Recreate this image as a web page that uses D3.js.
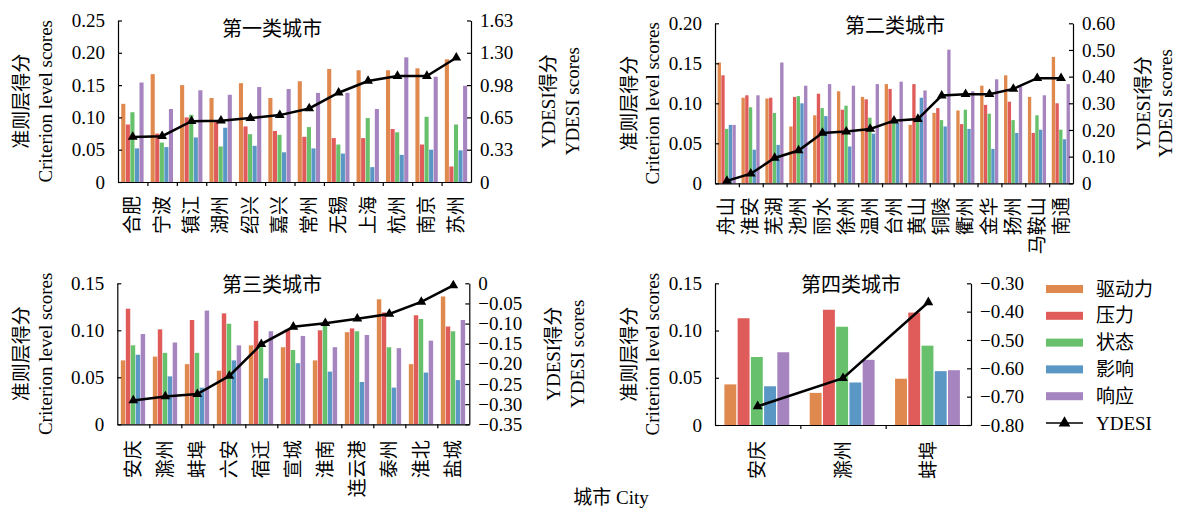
<!DOCTYPE html>
<html>
<head>
<meta charset="utf-8">
<script src="https://cdn.jsdelivr.net/npm/d3@7"></script>
<style>
  body { margin: 0; background: #fff; }
  svg text { font-family: "Liberation Serif", "Noto Sans CJK SC", serif; fill: #000; }
</style>
</head>
<body>
<svg id="chart" width="1177" height="510"></svg>
<script>
// criteria + legend
var criteria = ["驱动力", "压力", "状态", "影响", "响应"];
var colors = ["#E0894F", "#E05C5A", "#67C06B", "#5A97C4", "#A684BF"];

// panel 1 - 第一类城市
var cities1 = ["合肥", "宁波", "镇江", "湖州", "绍兴", "嘉兴", "常州", "无锡", "上海", "杭州", "南京", "苏州"];
var drive1 = [0.121, 0.167, 0.150, 0.130, 0.153, 0.130, 0.156, 0.175, 0.173, 0.173, 0.176, 0.190];
var press1 = [0.089, 0.075, 0.100, 0.095, 0.086, 0.079, 0.070, 0.068, 0.068, 0.082, 0.058, 0.024];
var state1 = [0.108, 0.061, 0.104, 0.055, 0.074, 0.073, 0.085, 0.058, 0.099, 0.077, 0.101, 0.089];
var impact1 = [0.052, 0.054, 0.069, 0.084, 0.056, 0.046, 0.052, 0.044, 0.023, 0.042, 0.050, 0.049];
var resp1 = [0.154, 0.113, 0.142, 0.135, 0.147, 0.144, 0.138, 0.138, 0.113, 0.193, 0.163, 0.149];
var ydesi1 = [0.454, 0.461, 0.612, 0.616, 0.643, 0.673, 0.740, 0.898, 1.016, 1.066, 1.066, 1.250];
var ticksL1 = ["0", "0.05", "0.10", "0.15", "0.20", "0.25"];
var ticksR1 = ["0", "0.33", "0.65", "0.98", "1.30", "1.63"];

// panel 2 - 第二类城市
var cities2 = ["舟山", "淮安", "芜湖", "池州", "丽水", "徐州", "温州", "台州", "黄山", "铜陵", "衢州", "金华", "扬州", "马鞍山", "南通"];
var drive2 = [0.151, 0.107, 0.106, 0.071, 0.085, 0.115, 0.108, 0.124, 0.073, 0.088, 0.091, 0.122, 0.135, 0.108, 0.158];
var press2 = [0.135, 0.110, 0.107, 0.108, 0.112, 0.092, 0.105, 0.118, 0.124, 0.094, 0.074, 0.098, 0.102, 0.063, 0.100];
var state2 = [0.068, 0.095, 0.088, 0.109, 0.094, 0.097, 0.082, 0.077, 0.081, 0.079, 0.092, 0.087, 0.079, 0.085, 0.067];
var impact2 = [0.073, 0.042, 0.048, 0.100, 0.084, 0.046, 0.062, 0.075, 0.107, 0.071, 0.068, 0.043, 0.063, 0.067, 0.055];
var resp2 = [0.073, 0.110, 0.151, 0.122, 0.124, 0.122, 0.124, 0.127, 0.116, 0.167, 0.115, 0.130, 0.121, 0.110, 0.124];
var ydesi2 = [0.009, 0.036, 0.095, 0.123, 0.189, 0.194, 0.204, 0.235, 0.241, 0.329, 0.334, 0.334, 0.354, 0.394, 0.394];
var ticksL2 = ["0", "0.05", "0.10", "0.15", "0.20"];
var ticksR2 = ["0", "0.10", "0.20", "0.30", "0.40", "0.50", "0.60"];

// panel 3 - 第三类城市
var cities3 = ["安庆", "滁州", "蚌埠", "六安", "宿迁", "宣城", "淮南", "连云港", "泰州", "淮北", "盐城"];
var drive3 = [0.068, 0.072, 0.064, 0.057, 0.084, 0.082, 0.068, 0.098, 0.133, 0.064, 0.136];
var press3 = [0.123, 0.101, 0.111, 0.118, 0.110, 0.101, 0.100, 0.102, 0.119, 0.116, 0.104];
var state3 = [0.084, 0.076, 0.076, 0.107, 0.082, 0.079, 0.109, 0.099, 0.082, 0.112, 0.099];
var impact3 = [0.074, 0.051, 0.039, 0.068, 0.049, 0.065, 0.056, 0.045, 0.039, 0.055, 0.047];
var resp3 = [0.096, 0.087, 0.121, 0.084, 0.099, 0.094, 0.082, 0.095, 0.081, 0.089, 0.111];
var ydesi3 = [-0.291, -0.281, -0.275, -0.230, -0.151, -0.108, -0.099, -0.088, -0.076, -0.046, -0.005];
var ticksL3 = ["0", "0.05", "0.10", "0.15"];
var ticksR3 = ["\u22120.35", "\u22120.30", "\u22120.25", "\u22120.20", "\u22120.15", "\u22120.10", "\u22120.05", "0"];

// panel 4 - 第四类城市
var cities4 = ["安庆", "滁州", "蚌埠"];
var drive4 = [0.043, 0.034, 0.049];
var press4 = [0.113, 0.122, 0.119];
var state4 = [0.072, 0.104, 0.084];
var impact4 = [0.041, 0.045, 0.057];
var resp4 = [0.077, 0.069, 0.058];
var ydesi4 = [-0.734, -0.635, -0.367];
var ticksL4 = ["0", "0.05", "0.10", "0.15"];
var ticksR4 = ["\u22120.80", "\u22120.70", "\u22120.60", "\u22120.50", "\u22120.40", "\u22120.30"];

var svg = d3.select("#chart");

var panels = [
  {title: "第一类城市", titleX: 272, titleY: 29, cities: cities1, series: [drive1, press1, state1, impact1, resp1], ydesi: ydesi1,
   x0: 118, x1: 471, y0: 20.5, y1: 182, yL: [0, 0.25], yR: [0, 1.625], ticksL: ticksL1, ticksR: ticksR1,
   lt: [21, 45], rt: [548, 572], labGap: 14},
  {title: "第二类城市", titleX: 895, titleY: 26, cities: cities2, series: [drive2, press2, state2, impact2, resp2], ydesi: ydesi2,
   x0: 715, x1: 1073, y0: 23.3, y1: 183.3, yL: [0, 0.20], yR: [0, 0.60], ticksL: ticksL2, ticksR: ticksR2,
   lt: [629, 652], rt: [1143, 1165], labGap: 14},
  {title: "第三类城市", titleX: 272, titleY: 285, cities: cities3, series: [drive3, press3, state3, impact3, resp3], ydesi: ydesi3,
   x0: 117.3, x1: 469.3, y0: 283.3, y1: 424.3, yL: [0, 0.15], yR: [-0.35, 0], ticksL: ticksL3, ticksR: ticksR3,
   lt: [21, 45], rt: [553, 577], labGap: 16},
  {title: "第四类城市", titleX: 851, titleY: 285, cities: cities4, series: [drive4, press4, state4, impact4, resp4], ydesi: ydesi4,
   x0: 715, x1: 971, y0: 283.3, y1: 425, yL: [0, 0.15], yR: [-0.80, -0.30], ticksL: ticksL4, ticksR: ticksR4,
   lt: [629, 652], rt: null, labGap: 16}
];

function drawPanel(p) {
  var g = svg.append("g");
  var n = p.cities.length;

  var x = d3.scaleBand().domain(p.cities).range([p.x0, p.x1]);
  var bw = x.bandwidth();
  var sub = d3.scaleBand().domain(d3.range(5)).range([bw * 0.11, bw * 0.87]).paddingInner(0.1);
  var yL = d3.scaleLinear().domain(p.yL).range([p.y1, p.y0]);
  var yR = d3.scaleLinear().domain(p.yR).range([p.y1, p.y0]);

  // bars
  p.cities.forEach(function(c, i) {
    var grp = g.append("g").attr("transform", "translate(" + x(c) + ",0)");
    p.series.forEach(function(s, j) {
      grp.append("rect")
        .attr("x", sub(j))
        .attr("width", sub.bandwidth())
        .attr("y", yL(s[i]))
        .attr("height", yL(0) - yL(s[i]))
        .attr("fill", colors[j]);
    });
  });

  // left axis
  var lv = p.ticksL.map(function(t, i) { return p.yL[0] + i * (p.yL[1] - p.yL[0]) / (p.ticksL.length - 1); });
  var axL = g.append("g").attr("transform", "translate(" + p.x0 + ",0)")
    .call(d3.axisLeft(yL).tickValues(lv).tickSizeInner(-4).tickSizeOuter(0).tickPadding(13)
      .tickFormat(function(d, i) { return p.ticksL[i]; }));
  // right axis
  var rv = p.ticksR.map(function(t, i) { return p.yR[0] + i * (p.yR[1] - p.yR[0]) / (p.ticksR.length - 1); });
  var axR = g.append("g").attr("transform", "translate(" + p.x1 + ",0)")
    .call(d3.axisRight(yR).tickValues(rv).tickSizeInner(-4).tickSizeOuter(0).tickPadding(9)
      .tickFormat(function(d, i) { return p.ticksR[i]; }));
  // bottom axis, ticks between the groups
  var xi = d3.scaleLinear().domain([0, n]).range([p.x0, p.x1]);
  var axB = g.append("g").attr("transform", "translate(0," + p.y1 + ")")
    .call(d3.axisBottom(xi).tickValues(d3.range(1, n)).tickSizeInner(4).tickSizeOuter(0).tickFormat(""));

  [axL, axR, axB].forEach(function(a) {
    a.selectAll("path, line").attr("stroke", "#000").attr("stroke-width", 1.2);
    a.selectAll("text").style("font-size", "19px").style("font-family", "Liberation Serif, serif");
  });

  // city labels, rotated
  p.cities.forEach(function(c) {
    g.append("text")
      .attr("transform", "translate(" + (x(c) + bw / 2) + "," + (p.y1 + p.labGap) + ") rotate(-90)")
      .attr("text-anchor", "end")
      .attr("dominant-baseline", "central")
      .style("font-size", "19px")
      .text(c);
  });

  // YDESI line
  var line = d3.line()
    .x(function(d, i) { return x(p.cities[i]) + bw / 2; })
    .y(function(d) { return yR(d); });
  g.append("path").datum(p.ydesi)
    .attr("d", line)
    .attr("fill", "none")
    .attr("stroke", "#000")
    .attr("stroke-width", 2.5);
  g.selectAll(".tri").data(p.ydesi).enter().append("path")
    .attr("class", "tri")
    .attr("d", d3.symbol(d3.symbolTriangle).size(42))
    .attr("transform", function(d, i) { return "translate(" + (x(p.cities[i]) + bw / 2) + "," + yR(d) + ")"; })
    .attr("fill", "#000");

  // title
  g.append("text")
    .attr("x", p.titleX).attr("y", p.titleY)
    .attr("text-anchor", "middle").attr("dominant-baseline", "central")
    .style("font-size", "20px")
    .text(p.title);

  // axis titles
  var cy = (p.y0 + p.y1) / 2;
  g.append("text").attr("transform", "translate(" + p.lt[0] + "," + cy + ") rotate(-90)")
    .attr("text-anchor", "middle").attr("dominant-baseline", "central")
    .style("font-size", "19px").text("准则层得分");
  g.append("text").attr("transform", "translate(" + p.lt[1] + "," + cy + ") rotate(-90)")
    .attr("text-anchor", "middle").attr("dominant-baseline", "central")
    .style("font-size", "19px").text("Criterion level scores");
  if (p.rt) {
    g.append("text").attr("transform", "translate(" + p.rt[0] + "," + cy + ") rotate(-90)")
      .attr("text-anchor", "middle").attr("dominant-baseline", "central")
      .style("font-size", "19px").text("YDESI得分");
    g.append("text").attr("transform", "translate(" + p.rt[1] + "," + cy + ") rotate(-90)")
      .attr("text-anchor", "middle").attr("dominant-baseline", "central")
      .style("font-size", "19px").text("YDESI scores");
  }
}

panels.forEach(drawPanel);

// legend
var leg = svg.append("g").attr("transform", "translate(1046,289)");
criteria.forEach(function(c, i) {
  leg.append("rect").attr("x", 0).attr("y", i * 26.8 - 4).attr("width", 37).attr("height", 8).attr("fill", colors[i]);
  leg.append("text").attr("x", 50).attr("y", i * 26.8).attr("dominant-baseline", "central")
    .style("font-size", "19px").text(c);
});
leg.append("line").attr("x1", 0).attr("x2", 37).attr("y1", 5 * 26.8).attr("y2", 5 * 26.8)
  .attr("stroke", "#000").attr("stroke-width", 1.5);
leg.append("path").attr("d", d3.symbol(d3.symbolTriangle).size(60))
  .attr("transform", "translate(18.5," + (5 * 26.8) + ")").attr("fill", "#000");
leg.append("text").attr("x", 50).attr("y", 5 * 26.8).attr("dominant-baseline", "central")
  .style("font-size", "19px").text("YDESI");

// shared x title
svg.append("text").attr("x", 611).attr("y", 497)
  .attr("text-anchor", "middle").attr("dominant-baseline", "central")
  .style("font-size", "19px").text("城市 City");
</script>
</body>
</html>
